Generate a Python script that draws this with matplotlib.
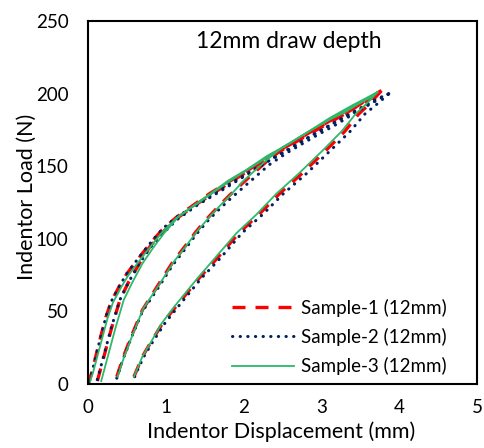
import matplotlib.pyplot as plt

plt.rcParams['font.family'] = ['Lato', 'DejaVu Sans']

# Sample-1 (12mm): four branches
s1_ax = [0, 0.05, 0.1, 0.17, 0.23, 0.3, 0.4, 0.5, 0.6, 0.7, 0.82, 0.95, 1.14, 1.35, 1.56, 1.8, 2.05, 2.3, 2.6, 2.84, 3.1, 3.3, 3.48, 3.65, 3.77]
s1_ay = [0, 8, 19, 34, 46, 57, 67, 76, 83, 90, 98, 106, 115, 123, 131, 139, 147, 156, 165, 173, 181, 186, 192, 197, 202]
s1_bx = [0.12, 0.2, 0.3, 0.41, 0.52, 0.66, 0.8, 0.95, 1.14, 1.4, 1.8, 2.3, 2.84, 3.3, 3.77]
s1_by = [2, 18, 38, 58, 70, 83, 95, 104, 114, 124, 138, 155, 172, 186, 202]
s1_cx = [0.37, 0.45, 0.55, 0.7, 0.9, 1.09, 1.25, 1.39, 1.55, 1.69, 1.82, 2.0, 2.29, 2.5, 2.84, 3.1, 3.4, 3.6, 3.77]
s1_cy = [5, 18, 32, 51, 68, 84, 95, 105, 115, 123, 130, 139, 153, 162, 173, 181, 191, 196, 202]
s1_dx = [0.59, 0.63, 0.7, 0.8, 0.96, 1.14, 1.43, 1.65, 1.94, 2.2, 2.46, 2.75, 3.06, 3.3, 3.48, 3.62, 3.77]
s1_dy = [5, 10, 19, 28, 42, 54, 73, 86, 104, 117, 131, 145, 161, 174, 186, 193, 202]

# Sample-2 (12mm)
s2_ax = [0.02, 0.06, 0.11, 0.18, 0.24, 0.31, 0.41, 0.51, 0.61, 0.71, 0.83, 0.96, 1.14, 1.35, 1.56, 1.8, 2.05, 2.3, 2.6, 2.84, 3.1, 3.3, 3.5, 3.7, 3.87]
s2_ay = [2, 10, 21, 36, 48, 58, 68, 77, 84, 91, 99, 107, 115, 122, 129, 137, 145, 153, 162, 170, 178, 184, 190, 196, 200]
s2_bx = [0.12, 0.2, 0.3, 0.41, 0.52, 0.66, 0.8, 0.95, 1.14, 1.4, 1.8, 2.3, 2.84, 3.3, 3.87]
s2_by = [3, 19, 39, 58, 70, 83, 94, 103, 113, 123, 136, 153, 170, 184, 200]
s2_cx = [0.37, 0.45, 0.55, 0.7, 0.9, 1.09, 1.25, 1.39, 1.55, 1.7, 1.84, 2.03, 2.33, 2.55, 2.9, 3.2, 3.5, 3.7, 3.87]
s2_cy = [4, 17, 31, 50, 66, 82, 93, 103, 113, 121, 128, 137, 151, 159, 170, 179, 189, 195, 200]
s2_dx = [0.6, 0.64, 0.72, 0.82, 0.99, 1.17, 1.46, 1.69, 1.98, 2.25, 2.51, 2.81, 3.12, 3.37, 3.56, 3.72, 3.87]
s2_dy = [5, 10, 19, 28, 42, 54, 73, 86, 104, 117, 131, 145, 161, 174, 186, 193, 200]

# Sample-3 (12mm)
s3_ax = [0.03, 0.07, 0.12, 0.19, 0.25, 0.32, 0.42, 0.52, 0.62, 0.72, 0.84, 0.96, 1.15, 1.36, 1.57, 1.8, 2.05, 2.3, 2.6, 2.84, 3.1, 3.3, 3.48, 3.62, 3.72]
s3_ay = [2, 9, 19, 33, 45, 56, 66, 75, 82, 89, 97, 105, 115, 123, 131, 140, 148, 157, 166, 174, 182, 187, 193, 197, 201]
s3_bx = [0.17, 0.25, 0.35, 0.46, 0.57, 0.7, 0.84, 0.98, 1.16, 1.4, 1.8, 2.3, 2.84, 3.3, 3.72]
s3_by = [2, 18, 38, 58, 70, 83, 94, 104, 115, 124, 139, 156, 174, 188, 201]
s3_cx = [0.38, 0.46, 0.56, 0.71, 0.91, 1.1, 1.26, 1.4, 1.56, 1.7, 1.83, 2.0, 2.29, 2.5, 2.84, 3.1, 3.4, 3.58, 3.72]
s3_cy = [5, 18, 32, 52, 68, 84, 95, 105, 115, 123, 130, 140, 154, 163, 174, 183, 192, 197, 201]
s3_dx = [0.59, 0.63, 0.7, 0.8, 0.95, 1.12, 1.41, 1.62, 1.91, 2.17, 2.42, 2.71, 3.02, 3.26, 3.44, 3.58, 3.72]
s3_dy = [5, 10, 19, 28, 42, 54, 73, 86, 104, 117, 131, 145, 161, 174, 186, 193, 201]

labels = ['Sample-1 (12mm)', 'Sample-2 (12mm)', 'Sample-3 (12mm)']
samples = [
    [(s1_ax, s1_ay), (s1_bx, s1_by), (s1_cx, s1_cy), (s1_dx, s1_dy)],
    [(s2_ax, s2_ay), (s2_bx, s2_by), (s2_cx, s2_cy), (s2_dx, s2_dy)],
    [(s3_ax, s3_ay), (s3_bx, s3_by), (s3_cx, s3_cy), (s3_dx, s3_dy)],
]
styles = [
    dict(color='#ff0000', lw=2.4, ls=(0, (3.9, 3.0))),
    dict(color='#002060', lw=2.2, ls=(0, (0.1, 2.4)), dash_capstyle='round'),
    dict(color='#2db86a', lw=1.3, ls='-'),
]

fig = plt.figure(figsize=(4.84, 4.48), dpi=100)
ax = fig.add_axes([88 / 484, 64 / 448, 389 / 484, 363 / 448])

for lab, branches, st in zip(labels, samples, styles):
    for i, (x, y) in enumerate(branches):
        ax.plot(x, y, label=lab if i == 0 else None, **st)

ax.set_xlim(0, 5)
ax.set_ylim(0, 250)
ax.set_xticks([0, 1, 2, 3, 4, 5])
ax.set_yticks([0, 50, 100, 150, 200, 250])
ax.tick_params(length=0, labelsize=13.5)
ax.tick_params(axis='x', pad=11)
ax.tick_params(axis='y', pad=14)
for sp in ax.spines.values():
    sp.set_linewidth(1.5)
    sp.set_color('black')

ax.set_xlabel('Indentor Displacement (mm)', fontsize=15.5, va='center')
ax.xaxis.set_label_coords(0.496, -0.131)
ax.set_ylabel('Indentor Load (N)', fontsize=15.5, va='center')
ax.yaxis.set_label_coords(-0.157, 0.515)

ax.text(0.515, 0.972, '12mm draw depth', transform=ax.transAxes,
        ha='center', va='top', fontsize=16.5)

leg = ax.legend(loc='center left', bbox_to_anchor=(0.370, 0.13), frameon=False,
                fontsize=13.5, handlelength=3.3, handletextpad=0.4,
                labelspacing=0.6, borderpad=0, borderaxespad=0)

fig.savefig('out.png', dpi=100)
